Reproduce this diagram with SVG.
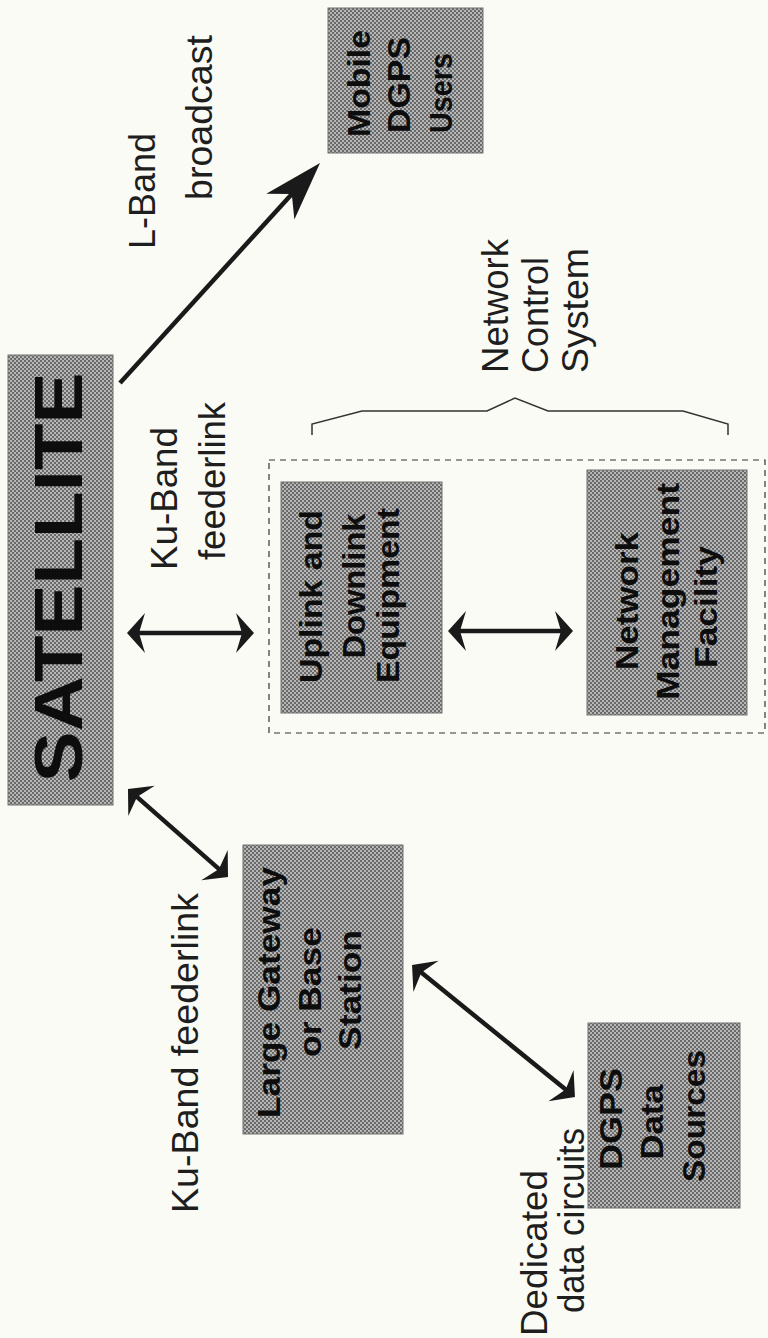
<svg xmlns="http://www.w3.org/2000/svg" width="768" height="1338" viewBox="0 0 768 1338">
<defs>
<style>
.lbl{font-family:"Liberation Sans",Arial,sans-serif;font-size:37px;fill:#1e1e1e}
.nt{font-family:"Liberation Sans",Arial,sans-serif;font-weight:bold;font-size:31px;fill:#0d0d0d}
.sat{font-family:"Liberation Sans",Arial,sans-serif;font-weight:bold;font-size:68px;fill:#0d0d0d}
.box{fill:url(#halftone);stroke:#707070;stroke-width:1}
.conn{stroke:#1a1a1a;stroke-width:4.5;fill:none}
.brace{stroke:#333;stroke-width:1.5;fill:none}
.dash{stroke:#333;stroke-width:1.2;fill:none;stroke-dasharray:6 5}
</style>
<pattern id="halftone" width="4" height="4" patternUnits="userSpaceOnUse">
<rect width="4" height="4" fill="#b6b6b6"/>
<circle cx="1" cy="1" r="1" fill="#505050"/>
<circle cx="3" cy="3" r="1" fill="#505050"/>
</pattern>
<marker id="ah" viewBox="-10 -21 22 42" refX="0" refY="0" markerWidth="22" markerHeight="42" markerUnits="userSpaceOnUse" orient="auto-start-reverse">
<path d="M10,0 L-8,-20 L-2,0 L-8,20 Z" fill="#1a1a1a"/>
</marker>
<marker id="ahBig" viewBox="-50 -21 62 42" refX="0" refY="0" markerWidth="62" markerHeight="42" markerUnits="userSpaceOnUse" orient="auto">
<path d="M10,0 L-49,-19 L-32,0 L-49,19 Z" fill="#1a1a1a"/>
</marker>
</defs>
<rect width="768" height="1338" fill="#fbfbf6"/>

<g id="network-control-boundary">
<rect class="dash" x="269" y="460" width="496" height="273"/>
</g>

<g id="satellite">
<rect class="box" x="8" y="355" width="105" height="450"/>
<text class="sat" transform="translate(82,577.5) rotate(-90)" text-anchor="middle" textLength="410" lengthAdjust="spacingAndGlyphs">SATELLITE</text>
</g>

<g id="mobile-dgps-users">
<rect class="box" x="328" y="8" width="155" height="145"/>
<text class="nt" transform="translate(370,83.5) rotate(-90)" text-anchor="middle" textLength="107" lengthAdjust="spacingAndGlyphs">Mobile</text>
<text class="nt" transform="translate(410,85) rotate(-90)" text-anchor="middle" textLength="96" lengthAdjust="spacingAndGlyphs">DGPS</text>
<text class="nt" transform="translate(452,93) rotate(-90)" text-anchor="middle" textLength="80" lengthAdjust="spacingAndGlyphs">Users</text>
</g>

<g id="uplink-downlink-equipment">
<rect class="box" x="281" y="482" width="161" height="231"/>
<text class="nt" transform="translate(322,596.5) rotate(-90)" text-anchor="middle" textLength="173" lengthAdjust="spacingAndGlyphs">Uplink and</text>
<text class="nt" transform="translate(365,586) rotate(-90)" text-anchor="middle" textLength="145" lengthAdjust="spacingAndGlyphs">Downlink</text>
<text class="nt" transform="translate(399,595.5) rotate(-90)" text-anchor="middle" textLength="175" lengthAdjust="spacingAndGlyphs">Equipment</text>
</g>

<g id="network-management-facility">
<rect class="box" x="587" y="470" width="160" height="245"/>
<text class="nt" transform="translate(638,601) rotate(-90)" text-anchor="middle" textLength="138" lengthAdjust="spacingAndGlyphs">Network</text>
<text class="nt" transform="translate(679,591.5) rotate(-90)" text-anchor="middle" textLength="217" lengthAdjust="spacingAndGlyphs">Management</text>
<text class="nt" transform="translate(717,607) rotate(-90)" text-anchor="middle" textLength="122" lengthAdjust="spacingAndGlyphs">Facility</text>
</g>

<g id="large-gateway">
<rect class="box" x="243" y="845" width="160" height="289"/>
<text class="nt" transform="translate(280,992.5) rotate(-90)" text-anchor="middle" textLength="251" lengthAdjust="spacingAndGlyphs">Large Gateway</text>
<text class="nt" transform="translate(321,992) rotate(-90)" text-anchor="middle" textLength="130" lengthAdjust="spacingAndGlyphs">or Base</text>
<text class="nt" transform="translate(361,990) rotate(-90)" text-anchor="middle" textLength="120" lengthAdjust="spacingAndGlyphs">Station</text>
</g>

<g id="dgps-data-sources">
<rect class="box" x="588" y="1023" width="152" height="185"/>
<text class="nt" transform="translate(622,1119) rotate(-90)" text-anchor="middle" textLength="102" lengthAdjust="spacingAndGlyphs">DGPS</text>
<text class="nt" transform="translate(663,1122) rotate(-90)" text-anchor="middle" textLength="75" lengthAdjust="spacingAndGlyphs">Data</text>
<text class="nt" transform="translate(705,1116) rotate(-90)" text-anchor="middle" textLength="132" lengthAdjust="spacingAndGlyphs">Sources</text>
</g>

<g id="connectors">
<line class="conn" x1="120" y1="383" x2="313.3" y2="170.4" marker-end="url(#ahBig)"/>
<line class="conn" x1="137" y1="633" x2="244" y2="633" marker-start="url(#ah)" marker-end="url(#ah)"/>
<line class="conn" x1="458" y1="631" x2="563" y2="631" marker-start="url(#ah)" marker-end="url(#ah)"/>
<line class="conn" x1="135.5" y1="795.6" x2="220.5" y2="870.4" marker-start="url(#ah)" marker-end="url(#ah)"/>
<line class="conn" x1="419.8" y1="971.3" x2="567.2" y2="1090.7" marker-start="url(#ah)" marker-end="url(#ah)"/>
</g>

<g id="network-control-system">
<path class="brace" d="M312,435 L312,424 L362,411 L487,411 L515,398 L548,411 L683,411 L728,424 L728,435"/>
<text class="lbl" transform="translate(507.5,373) rotate(-90)" textLength="134" lengthAdjust="spacingAndGlyphs">Network</text>
<text class="lbl" transform="translate(547.5,373) rotate(-90)" textLength="116" lengthAdjust="spacingAndGlyphs">Control</text>
<text class="lbl" transform="translate(587.5,373) rotate(-90)" textLength="125" lengthAdjust="spacingAndGlyphs">System</text>
</g>

<g id="labels">
<text class="lbl" transform="translate(154.5,249) rotate(-90)" textLength="116" lengthAdjust="spacingAndGlyphs">L-Band</text>
<text class="lbl" transform="translate(212,200) rotate(-90)" textLength="165" lengthAdjust="spacingAndGlyphs">broadcast</text>
<text class="lbl" transform="translate(176.5,570) rotate(-90)" textLength="143" lengthAdjust="spacingAndGlyphs">Ku-Band</text>
<text class="lbl" transform="translate(224.5,560) rotate(-90)" textLength="158" lengthAdjust="spacingAndGlyphs">feederlink</text>
<text class="lbl" transform="translate(197.5,1213) rotate(-90)" textLength="320" lengthAdjust="spacingAndGlyphs">Ku-Band feederlink</text>
<text class="lbl" transform="translate(546.5,1336) rotate(-90)" textLength="166" lengthAdjust="spacingAndGlyphs">Dedicated</text>
<text class="lbl" transform="translate(583.5,1313) rotate(-90)" textLength="185" lengthAdjust="spacingAndGlyphs">data circuits</text>
</g>
</svg>
